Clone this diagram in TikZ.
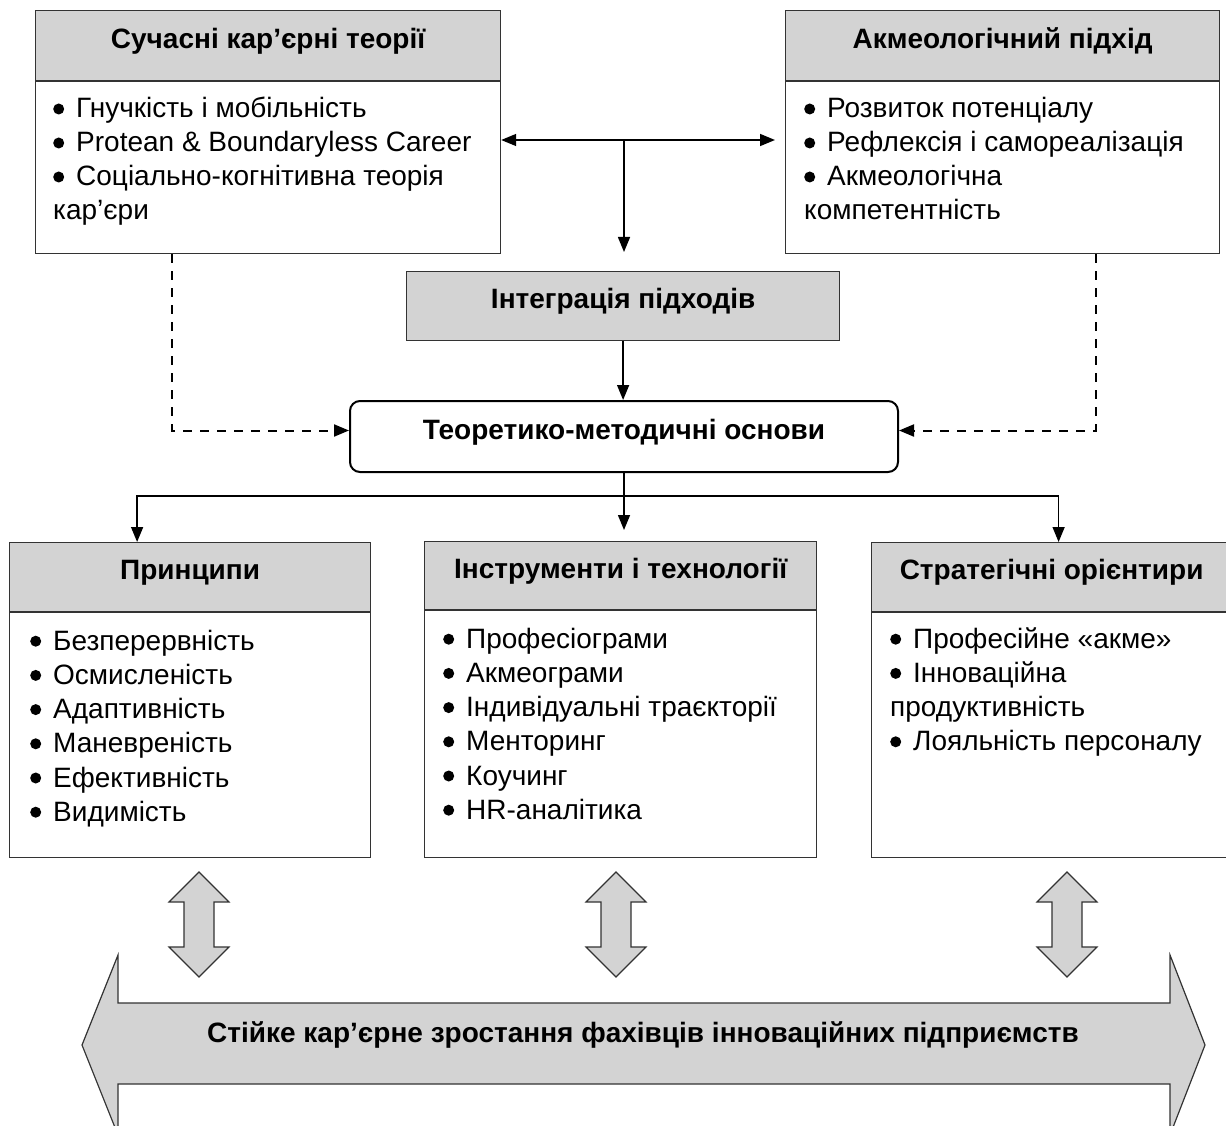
\documentclass[tikz,border=0pt]{standalone}
\usepackage{fontspec}
\setmainfont{Liberation Sans}
\usetikzlibrary{positioning,arrows.meta}

\definecolor{headgray}{RGB}{211,211,211}
\newcommand{\bul}{\tikz[baseline=0pt]{\fill (5.5pt,9pt) circle (5.5pt);}\hspace{12pt}}

\tikzset{
  headbox/.style={draw=black!80, fill=headgray, line width=1.2pt, inner sep=0pt,
    text height=20pt, text depth=15pt, font=\fontsize{28}{34}\selectfont\bfseries},
  bodybox/.style={draw=black!80, line width=1.2pt, inner sep=0pt},
  item/.style={inner sep=0pt, anchor=base west},
  arr/.style={-{Triangle[length=15pt,width=12pt]}, line width=1.5pt},
  dasharr/.style={arr, line width=2pt, dash pattern=on 9pt off 8pt},
  bigarrow/.style={draw=black!80, fill=headgray, line width=1.2pt}
}

\begin{document}
\begin{tikzpicture}[x=1pt,y=-1pt,font=\fontsize{28}{34}\selectfont]
  \useasboundingbox (0,0) rectangle (1226,1126);

  % upper blocks
  \node[headbox, anchor=north west, minimum width=465pt, minimum height=70pt] (theoryhead) at (35,10) {Сучасні кар’єрні теорії};
  \node[bodybox, below=0pt of theoryhead, minimum width=465pt, minimum height=172pt] (theorybody) {};
  \node[headbox, anchor=north west, minimum width=434pt, minimum height=70pt] (acmehead) at (785,10) {Акмеологічний підхід};
  \node[bodybox, below=0pt of acmehead, minimum width=434pt, minimum height=172pt] (acmebody) {};

  \foreach \txt [count=\i] in {\bul Гнучкість і мобільність, \bul Protean \& Boundaryless Career, \bul Соціально-когнітивна теорія, кар’єри}
    \node[item] (theory-\i) at (53,{84+34*\i}) {\txt};
  \foreach \txt [count=\i] in {\bul Розвиток потенціалу, \bul Рефлексія і самореалізація, \bul Акмеологічна, компетентність}
    \node[item] (acme-\i) at (804,{84+34*\i}) {\txt};

  % middle
  \node[headbox, anchor=north west, minimum width=433pt, minimum height=69pt] (integ) at (406,271) {Інтеграція підходів};
  \node[draw, line width=2pt, rounded corners=10pt, inner sep=0pt, anchor=north west,
    minimum width=548pt, minimum height=71pt, text height=20pt, text depth=15pt,
    font=\fontsize{28}{34}\selectfont\bfseries] (basis) at (349,400) {Теоретико-методичні основи};

  \coordinate (hub) at (624,140);
  \draw[arr] (hub) -- (hub -| theorybody.east);
  \draw[arr, shorten >=10pt] (hub) -- (hub -| acmebody.west);
  \draw[arr, shorten >=19pt] (hub) -- (hub |- integ.north);
  \draw[arr] (integ.south) -- (integ.south |- basis.north);
  \draw[dasharr] ([xshift=-96pt]theorybody.south) |- ([yshift=6pt]basis.west);
  \draw[dasharr] ([xshift=93pt]acmebody.south) |- ([yshift=6pt]basis.east);

  % lower blocks
  \node[headbox, anchor=north west, minimum width=361pt, minimum height=69pt] (prinhead) at (9,542) {Принципи};
  \node[bodybox, below=0pt of prinhead, minimum width=361pt, minimum height=245pt] (prinbody) {};
  \node[headbox, anchor=north west, minimum width=392pt, minimum height=68pt] (toolshead) at (424,541) {Інструменти і технології};
  \node[bodybox, below=0pt of toolshead, minimum width=392pt, minimum height=247pt] (toolsbody) {};
  \node[headbox, anchor=north west, minimum width=360pt, minimum height=69pt] (strathead) at (871,542) {Стратегічні орієнтири};
  \node[bodybox, below=0pt of strathead, minimum width=360pt, minimum height=245pt] (stratbody) {};

  \foreach \txt [count=\i] in {\bul Безперервність, \bul Осмисленість, \bul Адаптивність, \bul Маневреність, \bul Ефективність, \bul Видимість}
    \node[item] (prin-\i) at (30,{616+34.2*\i}) {\txt};
  \foreach \txt [count=\i] in {\bul Професіограми, \bul Акмеограми, \bul Індивідуальні траєкторії, \bul Менторинг, \bul Коучинг, \bul HR-аналітика}
    \node[item] (tools-\i) at (443,{614+34.2*\i}) {\txt};
  \foreach \txt [count=\i] in {\bul Професійне «акме», \bul Інноваційна, продуктивність, \bul Лояльність персоналу}
    \node[item] (strat-\i) at (890,{614+34.2*\i}) {\txt};

  \coordinate (split) at (basis.south |- 0,496);
  \draw[arr, shorten >=11pt] (basis.south) -- (basis.south |- toolshead.north);
  \draw[arr] (split) -| ([xshift=-53pt]prinhead.north);
  \draw[arr] (split) -| ([xshift=7pt]strathead.north);

  % links to the result
  \foreach \cx in {199,616,1067}
    \draw[bigarrow] (\cx,872) -- ++(30,30) -- ++(-15,0) -- ++(0,45) -- ++(15,0) -- ++(-30,30)
      -- ++(-30,-30) -- ++(15,0) -- ++(0,-45) -- ++(-15,0) -- cycle;

  \draw[bigarrow] (82,1045) -- (118,955) -- (118,1003) -- (1170,1003) -- (1170,955) -- (1205,1045)
    -- (1170,1135) -- (1170,1084) -- (118,1084) -- (118,1135) -- cycle;
  \node[font=\fontsize{28}{34}\selectfont\bfseries, anchor=base] (growth) at (643,1042) {Стійке кар’єрне зростання фахівців інноваційних підприємств};
\end{tikzpicture}
\end{document}
